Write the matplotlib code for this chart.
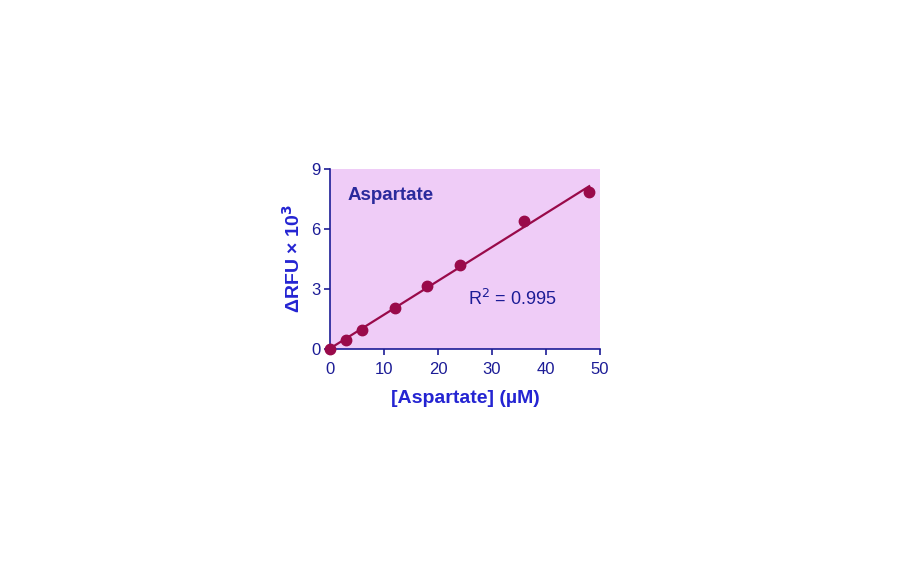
import numpy as np
import matplotlib
matplotlib.use("Agg")
import matplotlib.pyplot as plt

plt.rcParams['font.family'] = ['Liberation Sans', 'DejaVu Sans']

conc = [0, 3, 6, 12, 18, 24, 36, 48]
rfu = [0.0, 0.45, 0.95, 2.05, 3.15, 4.2, 6.4, 7.85]
xticks = [0, 10, 20, 30, 40, 50]
yticks = [0, 3, 6, 9]
title = "Aspartate"
r2_text = "R$^2$ = 0.995"

navy = "#1c1c96"
label_blue = "#2424d2"
title_blue = "#2a2a9c"
maroon = "#990a4a"
bg = "#efccf7"

fig = plt.figure(figsize=(9.12, 5.62), dpi=100)
ax = fig.add_axes([330/912, 1-349/562, 270/912, 180/562])
ax.set_facecolor(bg)

slope, intercept = np.polyfit(conc, rfu, 1)
xl = np.array([0, 48])
ax.plot(xl, slope*xl + intercept, color=maroon, lw=1.6, zorder=2)
ax.plot(conc, rfu, 'o', color=maroon, ms=7.5, zorder=3, clip_on=False)

ax.set_xlim(0, 50)
ax.set_ylim(0, 9)
ax.set_xticks(xticks)
ax.set_yticks(yticks)
for s in ['top', 'right']:
    ax.spines[s].set_visible(False)
for s in ['left', 'bottom']:
    ax.spines[s].set_color(navy)
    ax.spines[s].set_linewidth(1.2)
ax.tick_params(colors=navy, labelsize=12, length=4, width=1.2)
ax.tick_params(axis='x', pad=5)
ax.tick_params(axis='y', pad=3)

ax.set_xlabel("[Aspartate] (\u00b5M)", color=label_blue, fontsize=14, fontweight='bold', labelpad=10)
ax.set_ylabel("\u0394RFU \u00d7 10$^\\mathbf{3}$", color=label_blue, fontsize=14, fontweight='bold', labelpad=5)

ax.text(3.3, 7.7, title, color=title_blue, fontsize=13.5, fontweight='bold', va='center', ha='left')
ax.text(25.5, 2.5, r2_text, color=navy, fontsize=13, va='center', ha='left')

fig.savefig("out.png", dpi=100, facecolor='white')
